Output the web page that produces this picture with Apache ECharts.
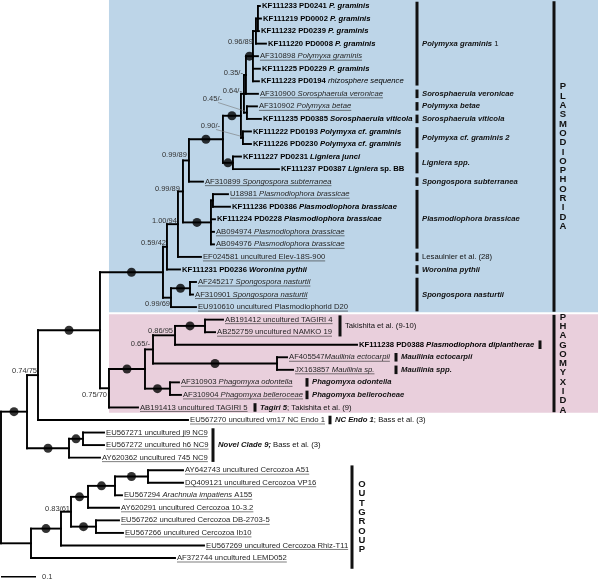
<!DOCTYPE html>
<html><head><meta charset="utf-8">
<script src="https://cdn.jsdelivr.net/npm/echarts@6/dist/echarts.min.js"></script>
<style>html,body{margin:0;padding:0;background:#fff}#c{width:600px;height:581px}</style>
</head><body><div id="c"></div>
<script>
// ================= DATA =================
const leafAccession = ['KF111233','KF111219','KF111232','KF111220','AF310898','KF111225','KF111223','AF310900','AF310902','KF111235','KF111222','KF111226','KF111227','KF111237','AF310899','U18981','KF111236','KF111224','AB094974','AB094976','EF024581','KF111231','AF245217','AF310901','EU910610','AB191412','AB252759','KF111238','AF405547','JX163857','AF310903','AF310904','AB191413','EU567270','EU567271','EU567272','AY620362','AY642743','DQ409121','EU567294','AY620291','EU567262','EU567266','EU567269','AF372744'];
const leafDescription = ['PD0241 *P. graminis*','PD0002 *P. graminis*','PD0239 *P. graminis*','PD0008 *P. graminis*','*Polymyxa graminis*','PD0229 *P. graminis*','PD0194 _rhizosphere sequence_','*Sorosphaerula veronicae*','*Polymyxa betae*','PD0385 *Sorosphaerula viticola*','PD0193 *Polymyxa cf. graminis*','PD0230 *Polymyxa cf. graminis*','PD0231 *Ligniera junci*','PD0387 *Ligniera* sp. BB','*Spongospora subterranea*','*Plasmodiophora brassicae*','PD0386 *Plasmodiophora brassicae*','PD0228 *Plasmodiophora brassicae*','*Plasmodiophora brassicae*','*Plasmodiophora brassicae*','uncultured Elev-18S-900','PD0236 *Woronina pythii*','*Spongospora nasturtii*','*Spongospora nasturtii*','uncultured Plasmodiophorid D20','uncultured TAGIRI 4','uncultured NAMKO 19','PD0388 *Plasmodiophora diplantherae*','*Maullinia ectocarpii*','*Maullinia sp.*','*Phagomyxa odontella*','*Phagomyxa belleroceae*','uncultured TAGIRI 5','uncultured vm17 NC Endo 1','uncultured ji9 NC9','uncultured h6 NC9','uncultured 745 NC9','uncultured Cercozoa A51','uncultured Cercozoa VP16','*Arachnula impatiens* A155','uncultured Cercozoa 10-3.2','uncultured Cercozoa DB-2703-5','uncultured Cercozoa Ib10','uncultured Cercozoa Rhiz-T11','uncultured LEMD052'];
const studySequences = [0,1,2,3,5,6,9,10,11,12,13,16,17,21,27];
const noSpaceAfterAccession = [28];

// tree edges (child, parent, branch length in substitutions/site), children in display order
const edgeChild  = ['A','OG','N074','NC9','NB','L33','P','Ph0','N1','N5','N2','L21','N3','L20','W','Pb','V','L14','U','Lig','T','G2','S','BV','Pg1','L7','A1','L4','L5','L6','A2','L3','L0','L1','L2','L8','L9','L10','L11','L12','L13','Pb2','L17','L18','L19','L15','L16','SN','L24','L22','L23','Ph1','L32','N065','Phg','N086','Ma','TN','L27','L25','L26','L28','L29','L30','L31','NC9a','L36','L34','L35','OG1','L44','O2','L43','O3','O4','O5','L40','O6','L39','L37','L38','L41','L42'];
const edgeParent = ['root','root','A','A','N074','N074','NB','NB','P','P','N1','N1','N2','N2','N3','N3','W','W','V','V','U','U','T','T','S','S','Pg1','Pg1','Pg1','Pg1','A1','A1','A2','A2','A2','BV','BV','G2','G2','Lig','Lig','Pb','Pb','Pb','Pb','Pb2','Pb2','N5','N5','SN','SN','Ph0','Ph0','Ph1','Ph1','N065','N065','N086','N086','TN','TN','Ma','Ma','Phg','Phg','NC9','NC9','NC9a','NC9a','OG','OG','OG1','OG1','O2','O2','O3','O3','O5','O5','O6','O6','O4','O4'];
const edgeLength = [0.0743,0.0857,0.0314,0.12,0.1771,0.4286,0.18,0.0257,0.0114,0.0229,0.0314,0.0371,0.0143,0.0657,0.0171,0.08,0.0971,0.04,0.0514,0.0286,0.0086,0.0057,0.0057,0.0086,0.02,0.0343,0.0086,0.0143,0.02,0.0171,0.0057,0.0286,0.0057,0.0086,0.0029,0.0286,0.04,0.0229,0.0229,0.0229,0.1314,0.0057,0.0114,0.0086,0.0086,0.0429,0.0486,0.0543,0.0714,0.0171,0.0086,0.1029,0.0829,0.0229,0.0714,0.0629,0.3543,0.0857,0.52,0.0514,0.0286,0.0286,0.0457,0.0257,0.0314,0.04,0.0886,0.06,0.06,0.0857,0.4114,0.0286,0.4086,0.0486,0.0714,0.0771,0.0886,0.0943,0.02,0.1,0.1,0.0657,0.0771];

// support values (posterior / bootstrap)
const supportNode  = ['A1','S','T','BV','G2','W','N3','N2','N1','N5','Ph0','N086','N065','N074','O2'];
const supportValue = ['0.96/89','0.35/-','0.64/-','0.45/-','0.90/-','0.99/89','0.99/89','1.00/94','0.59/42','0.99/69','0.75/70','0.86/95','0.65/-','0.74/75','0.83/61'];
// nodes with maximal support (black dots)
const fullSupportNodes = ['A','NB','P','V','U','Lig','Pg1','Pb','SN','Ph1','TN','Ma','Phg','NC9','NC9a','OG1','O3','O5','O6','O4'];

// clade annotations
const cladeText = ['*Polymyxa graminis* 1','*Sorosphaerula veronicae*','*Polymyxa betae*','*Sorosphaerula viticola*','*Polymyxa cf. graminis 2*','*Ligniera spp.*','*Spongospora subterranea*','*Plasmodiophora brassicae*','Lesaulnier et al. (28)','*Woronina pythii*','*Spongospora nasturtii*','Takishita et al. (9-10)','','*Maullinia ectocarpii*','*Maullinia spp.*','*Phagomyxa odontella*','*Phagomyxa bellerocheae*','*Tagiri 5*; Takishita et al. (9)','*NC Endo 1*; Bass et al. (3)','*Novel Clade 9;* Bass et al. (3)'];
const cladeFirstLeaf = [0,7,8,9,10,12,14,15,20,21,22,25,27,28,29,30,31,32,33,34];
const cladeLastLeaf  = [6,7,8,9,11,13,14,19,20,21,24,26,27,28,29,30,31,32,33,36];

const orderText = ['PLASMODIOPHORIDA','PHAGOMYXIDA','OUTGROUP'];
const orderFirstLeaf = [0,25,37];
const orderLastLeaf = [24,32,44];
const shadedOrders = [0,1];
const shadeStartNode = 'Ph0';
const scaleBarLength = 0.1;
const scaleBarLabel = '0.1';

// ================= LAYOUT / STYLE =================
const FONT = '"Liberation Sans", Arial, Helvetica, sans-serif';
const LEAF_FS = 7.7, SUP_FS = 7.5, CLADE_FS = 7.7, ORDER_FS = 9.5;
const cladeBarX = [417,417,417,417,417,417,417,417,417,417,417,340,540,396,396,307,307,255,330,213];
const orderBarX = [554,554,352];
const orderLetterX = [563,563,362];
const orderBottomExtra = [0,0,6];
const shadeColors = ['#bdd5e8','#e9cfdc'];
const shadeRight = 598;
const supportPlacement = {
  A1:{dx:-3,dy:10.5}, S:{dx:-3,dy:-2}, T:{dx:-2,dy:-3},
  BV:{lx:222,ly:99,leader:true}, G2:{lx:220,ly:126,leader:true},
  W:{dx:-2,dy:-5.6}, N3:{dx:-3,dy:-2.4}, N2:{dx:-1,dy:-3}, N1:{dx:-1,dy:-4},
  N5:{dx:-1,dy:6}, Ph0:{dx:-2,dy:7}, N086:{dx:-2,dy:-4.5}, N065:{dx:-3,dy:-5.5},
  N074:{dx:-1,dy:-4}, O2:{dx:-1,dy:-3}
};

// ================= TREE LAYOUT =================
const children = {}, blen = {}, parentOf = {};
edgeChild.forEach((c, i) => {
  (children[edgeParent[i]] = children[edgeParent[i]] || []).push(c);
  blen[c] = edgeLength[i]; parentOf[c] = edgeParent[i];
});
const pos = {};
function layout(id, x) {
  if (!children[id]) { pos[id] = { x, y: +id.slice(1) }; return pos[id]; }
  const ys = children[id].map(c => layout(c, x + blen[c]).y);
  pos[id] = { x, y: (Math.min(...ys) + Math.max(...ys)) / 2 };
  return pos[id];
}
layout('root', 0);

const segments = [];
edgeChild.forEach(c => {
  const p = pos[parentOf[c]], q = pos[c];
  segments.push([p.x, q.y, q.x, q.y]);
});
Object.keys(children).forEach(id => {
  const ys = children[id].map(c => pos[c].y);
  segments.push([pos[id].x, Math.min(...ys), pos[id].x, Math.max(...ys)]);
});
const dots = fullSupportNodes.map(id => [(pos[parentOf[id]].x + pos[id].x) / 2, pos[id].y]);
const leafData = leafAccession.map((a, i) => [pos['L' + i].x, i]);
const supportData = supportNode.map(id => [pos[id].x, pos[id].y]);

// ================= TEXT HELPERS =================
const mctx = document.createElement('canvas').getContext('2d');
function fontStr(st, fs) { return (st.italic ? 'italic ' : '') + (st.bold ? 'bold ' : '') + fs + 'px ' + FONT; }
function measure(text, st, fs) { mctx.font = fontStr(st, fs); return mctx.measureText(text).width; }
function parseMarkup(str) {
  const segs = []; let s = false, u = false, buf = '';
  const flush = () => { if (buf) segs.push({ text: buf, s, u }); buf = ''; };
  for (const ch of str) {
    if (ch === '*') { flush(); s = !s; }
    else if (ch === '_') { flush(); u = !u; }
    else buf += ch;
  }
  flush(); return segs;
}
function richStyles(fs, color) {
  const base = { fontSize: fs, fontFamily: FONT, fill: color };
  return {
    n: Object.assign({}, base),
    b: Object.assign({}, base, { fontWeight: 'bold' }),
    i: Object.assign({}, base, { fontStyle: 'italic' }),
    bi: Object.assign({}, base, { fontWeight: 'bold', fontStyle: 'italic' })
  };
}
function keyOf(st) { return (st.bold ? 'b' : '') + (st.italic ? 'i' : '') || 'n'; }
function buildRich(segs, mapper, fs) {
  let text = '', width = 0;
  segs.forEach(sg => { const st = mapper(sg); text += '{' + keyOf(st) + '|' + sg.text + '}'; width += measure(sg.text, st, fs); });
  return { text, width };
}
const studyMap = sg => ({ bold: !sg.u, italic: sg.s || sg.u });
const gbMap = sg => ({ bold: false, italic: sg.s });
const cladeMap = sg => ({ bold: sg.s, italic: sg.s });
const studySet = new Set(studySequences);
const noSpaceSet = new Set(noSpaceAfterAccession);

// ================= CHART =================
const chart = echarts.init(document.getElementById('c'));
const option = {
  animation: false,
  backgroundColor: '#fff',
  grid: { left: 1, top: 6, width: 350, height: 552 },
  xAxis: { type: 'value', min: 0, max: 1, show: false },
  yAxis: { type: 'value', min: 0, max: 44, inverse: true, show: false },
  series: [
    { // shaded order boxes
      type: 'custom', clip: false, silent: true, z: 1,
      data: shadedOrders.map(k => [pos[shadeStartNode].x, orderFirstLeaf[k], orderLastLeaf[k], k]),
      renderItem: (params, api) => {
        const k = api.value(3);
        const p1 = api.coord([api.value(0), api.value(1) - 0.5]);
        const p2 = api.coord([api.value(0), api.value(2) + 0.5]);
        const top = k === 0 ? 0 : p1[1] + 1;
        return { type: 'rect', shape: { x: p1[0], y: top, width: shadeRight - p1[0], height: p2[1] - 1 - top }, style: { fill: shadeColors[k] } };
      }
    },
    { // branches
      type: 'custom', clip: false, silent: true, z: 3,
      data: segments,
      renderItem: (params, api) => {
        const p1 = api.coord([api.value(0), api.value(1)]);
        const p2 = api.coord([api.value(2), api.value(3)]);
        return { type: 'line', shape: { x1: p1[0], y1: p1[1], x2: p2[0], y2: p2[1] }, style: { stroke: '#000', lineWidth: 1.9, lineCap: 'square' } };
      }
    },
    { // full support dots
      type: 'scatter', clip: false, silent: true, z: 4,
      symbol: 'circle', symbolSize: 9, itemStyle: { color: '#000' },
      data: dots
    },
    { // leaf labels
      type: 'custom', clip: false, silent: true, z: 5,
      data: leafData,
      renderItem: (params, api) => {
        const i = params.dataIndex;
        const p = api.coord([api.value(0), api.value(1)]);
        const study = studySet.has(i);
        const sep = noSpaceSet.has(i) ? '' : ' ';
        const segs = [{ text: leafAccession[i] + sep, s: false, u: false }].concat(parseMarkup(leafDescription[i]));
        const color = study ? '#000' : '#262626';
        const r = buildRich(segs, study ? studyMap : gbMap, LEAF_FS);
        const x = p[0] + 2;
        const els = [{ type: 'text', x: x, y: p[1], style: { text: r.text, rich: richStyles(LEAF_FS, color), align: 'left', verticalAlign: 'middle' } }];
        if (!study) els.push({ type: 'line', shape: { x1: x, y1: p[1] + 4, x2: x + r.width, y2: p[1] + 4 }, style: { stroke: color, lineWidth: 0.6 } });
        return { type: 'group', children: els };
      }
    },
    { // support values
      type: 'custom', clip: false, silent: true, z: 5,
      data: supportData,
      renderItem: (params, api) => {
        const id = supportNode[params.dataIndex];
        const p = api.coord([api.value(0), api.value(1)]);
        const pl = supportPlacement[id] || { dx: -2, dy: -4 };
        let lx, ly;
        if (pl.lx !== undefined) { lx = pl.lx; ly = pl.ly; } else { lx = p[0] + pl.dx; ly = p[1] + pl.dy; }
        const els = [{ type: 'text', x: lx, y: ly, style: { text: supportValue[params.dataIndex], fontSize: SUP_FS, fontFamily: FONT, fill: '#333', align: 'right', verticalAlign: 'middle' } }];
        if (pl.leader) els.push({ type: 'line', shape: { x1: lx - 4, y1: ly + 3.5, x2: p[0] - 2, y2: p[1] - 1.5 }, style: { stroke: '#777', lineWidth: 0.6 } });
        return { type: 'group', children: els };
      }
    },
    { // clade bars + names
      type: 'custom', clip: false, silent: true, z: 5,
      data: cladeText.map((t, k) => [0, cladeFirstLeaf[k], cladeLastLeaf[k]]),
      renderItem: (params, api) => {
        const k = params.dataIndex;
        const y1 = api.coord([0, api.value(1) - 0.5])[1] + 2;
        const y2 = api.coord([0, api.value(2) + 0.5])[1] - 2;
        const bx = cladeBarX[k];
        const els = [{ type: 'rect', shape: { x: bx - 1.5, y: y1, width: 3, height: y2 - y1 }, style: { fill: '#111' } }];
        if (cladeText[k]) {
          const r = buildRich(parseMarkup(cladeText[k]), cladeMap, CLADE_FS);
          els.push({ type: 'text', x: bx + 5, y: (y1 + y2) / 2, style: { text: r.text, rich: richStyles(CLADE_FS, '#111'), align: 'left', verticalAlign: 'middle' } });
        }
        return { type: 'group', children: els };
      }
    },
    { // order bars + vertical names
      type: 'custom', clip: false, silent: true, z: 5,
      data: orderText.map((t, k) => [0, orderFirstLeaf[k], orderLastLeaf[k]]),
      renderItem: (params, api) => {
        const k = params.dataIndex;
        const y1 = api.coord([0, api.value(1) - 0.5])[1] + 1.5;
        const y2 = api.coord([0, api.value(2) + 0.5])[1] - 1.5 + orderBottomExtra[k];
        return { type: 'group', children: [
          { type: 'rect', shape: { x: orderBarX[k] - 1.5, y: y1, width: 3, height: y2 - y1 }, style: { fill: '#111' } },
          { type: 'text', x: orderLetterX[k], y: (y1 + y2) / 2, style: { text: orderText[k].split('').join('\n'), fontSize: ORDER_FS, fontWeight: 'bold', fontFamily: FONT, fill: '#111', lineHeight: 9.3, align: 'center', verticalAlign: 'middle' } }
        ] };
      }
    },
    { // scale bar
      type: 'custom', clip: false, silent: true, z: 5,
      data: [[0, scaleBarLength, 45.5]],
      renderItem: (params, api) => {
        const p1 = api.coord([api.value(0), api.value(2)]);
        const p2 = api.coord([api.value(1), api.value(2)]);
        return { type: 'group', children: [
          { type: 'line', shape: { x1: p1[0], y1: p1[1], x2: p2[0], y2: p2[1] }, style: { stroke: '#000', lineWidth: 1.5 } },
          { type: 'text', x: p2[0] + 6, y: p2[1], style: { text: scaleBarLabel, fontSize: SUP_FS, fontFamily: FONT, fill: '#333', align: 'left', verticalAlign: 'middle' } }
        ] };
      }
    }
  ]
};
chart.setOption(option);
</script>
</body></html>
